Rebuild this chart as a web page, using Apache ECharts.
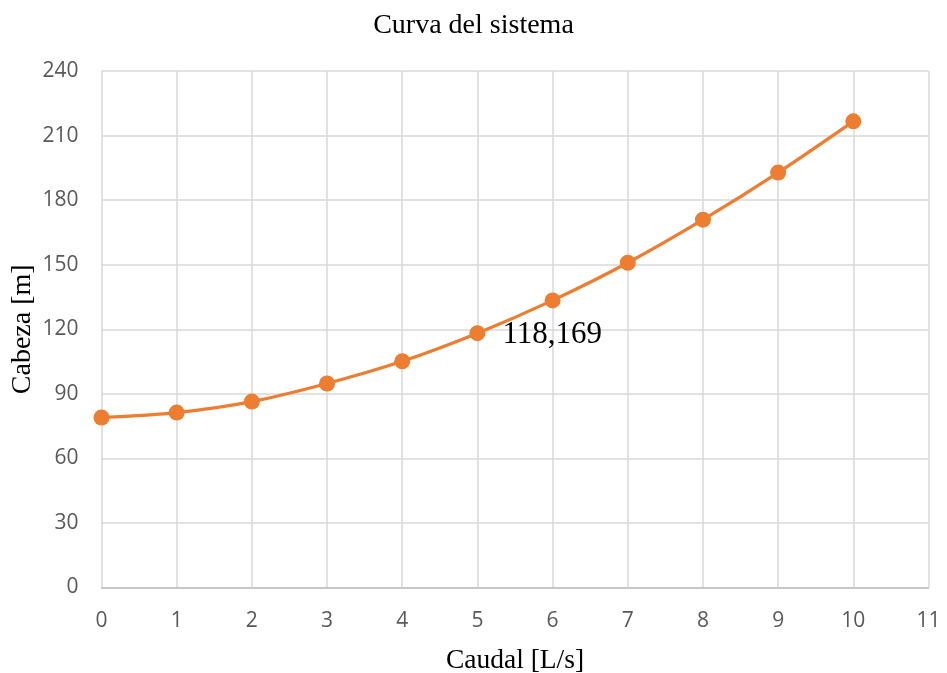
<!DOCTYPE html>
<html>
<head>
<meta charset="utf-8">
<script src="https://cdn.jsdelivr.net/npm/echarts@6/dist/echarts.min.js"></script>
<style>
html,body{margin:0;padding:0;background:#fff;}
#chart{width:947px;height:673px;}
</style>
</head>
<body>
<div id="chart"></div>
<script>
const caudal = [0, 1, 2, 3, 4, 5, 6, 7, 8, 9, 10];
const cabeza = [79.0, 81.3, 86.4, 94.8, 105.1, 118.169, 133.4, 150.9, 170.9, 192.8, 216.6];
const labeledIndex = 5;
const titleText = 'Curva del sistema';
const xTitle = 'Caudal [L/s]';
const yTitle = 'Cabeza [m]';

const data = caudal.map((x, i) => {
  const item = { value: [x, cabeza[i]] };
  if (i === labeledIndex) {
    item.label = {
      show: true,
      position: 'right',
      offset: [12, 2],
      formatter: () => cabeza[i].toFixed(3).replace('.', ','),
      fontFamily: 'Liberation Serif',
      fontSize: 31,
      color: '#000'
    };
  }
  return item;
});

const chart = echarts.init(document.getElementById('chart'));
chart.setOption({
  animation: false,
  backgroundColor: '#fff',
  title: {
    text: titleText,
    left: 'center',
    top: 7,
    textStyle: { fontFamily: 'Liberation Serif', fontSize: 28, fontWeight: 'normal', color: '#000' }
  },
  grid: { left: 101.5, right: 18.5, top: 71, bottom: 85.5, containLabel: false, outerBoundsMode: 'none' },
  xAxis: {
    type: 'value', min: 0, max: 11, interval: 1,
    name: xTitle, nameLocation: 'middle', nameGap: 59.5, nameMoveOverlap: false,
    nameTextStyle: { fontFamily: 'Liberation Serif', fontSize: 27.5, color: '#000' },
    axisLine: { show: true, lineStyle: { color: '#bfbfbf', width: 1.5 } },
    axisTick: { show: false },
    axisLabel: { fontFamily: 'Open Sans', fontSize: 21, color: '#595959', margin: 23 },
    splitLine: { show: true, lineStyle: { color: '#d9d9d9', width: 1.5 } }
  },
  yAxis: {
    type: 'value', min: 0, max: 240, interval: 30,
    name: yTitle, nameLocation: 'middle', nameGap: 65, nameRotate: 90, nameMoveOverlap: false,
    nameTextStyle: { fontFamily: 'Liberation Serif', fontSize: 28, color: '#000' },
    axisLine: { show: false },
    axisTick: { show: false },
    axisLabel: { fontFamily: 'Open Sans', fontSize: 21, color: '#595959', margin: 23 },
    splitLine: { show: true, lineStyle: { color: '#d9d9d9', width: 1.5 } }
  },
  series: [{
    type: 'line',
    data: data,
    smooth: 0.3,
    symbol: 'circle',
    symbolSize: 16,
    lineStyle: { color: '#ED7D31', width: 3.2 },
    itemStyle: { color: '#ED7D31' }
  }]
});
</script>
</body>
</html>
